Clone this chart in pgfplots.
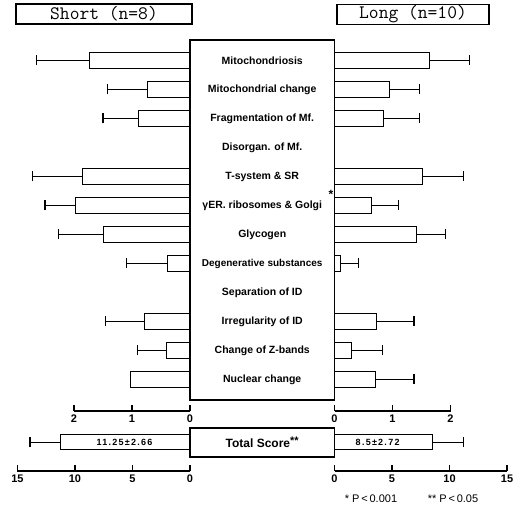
\documentclass[border=0pt]{standalone}
\usepackage{pgfplots}
\pgfplotsset{compat=1.18}
\usepackage{fontspec}
\setmainfont{Liberation Sans}
\begin{document}
\begin{tikzpicture}
\path[use as bounding box] (0pt,0pt) rectangle (516pt,513pt);
\pgfplotsset{
 barax/.style={scale only axis, hide axis, clip=false, xbar, bar width=16pt, bar shift=0pt,
   y dir=reverse, ymin=0.293, ymax=12.707, xmin=0, xmax=3, width=174pt, height=360pt},
 totax/.style={scale only axis, hide axis, clip=false, xbar, bar width=15pt, bar shift=0pt,
   ymin=0, ymax=1, xmin=0, xmax=15, width=172.5pt, height=29pt},
 bars/.style={draw=black, fill=white, line width=1pt,
   error bars/.cd, x dir=plus, x explicit, error mark=|, error bar style={line width=1pt, black},
   error mark options={line width=1.1pt, mark size=5pt, black}},
 scaleax/.style={scale only axis, axis x line=bottom, axis y line=none,
   axis line style={-, line width=1.1pt}, ymin=0, ymax=1, height=5pt,
   tick align=inside, major tick length=6pt, tick style={line width=1.1pt, black},
   xticklabel style={font=\bfseries\fontsize{11}{11}\selectfont, /pgf/number format/assume math mode=true}},
}
\def\lab{\bfseries\fontsize{10.5}{10.5}\selectfont}
% ---------- Short, upper panel ----------
\begin{axis}[barax, x dir=reverse, at={(190pt,473pt)}, anchor=north east]
\addplot[bars] coordinates {
 (1.74,1) +- (0.90,0)
 (0.74,2) +- (0.69,0)
 (0.88,3) +- (0.62,0)
 (1.86,5) +- (0.85,0)
 (1.98,6) +- (0.52,0)
 (1.50,7) +- (0.76,0)
 (0.38,8) +- (0.72,0)
 (0.78,10) +- (0.67,0)
 (0.40,11) +- (0.50,0)
};
\addplot[draw=black, fill=white, line width=1pt] coordinates {(1.02,12)};
\draw[line width=1.4pt] (axis cs:0,0.293) rectangle (axis cs:-2.491,12.707);
\node[font=\lab] at (axis cs:-1.2455,1) {Mitochondriosis};
\node[font=\lab] at (axis cs:-1.2455,2) {Mitochondrial change};
\node[font=\lab] at (axis cs:-1.2455,3) {Fragmentation of Mf.};
\node[font=\lab] at (axis cs:-1.2455,4) {Disorgan. of Mf.};
\node[font=\lab] at (axis cs:-1.2455,5) {T-system \& SR};
\node[font=\lab] at (axis cs:-1.2455,6) {γER. ribosomes \& Golgi};
\node[font=\bfseries\fontsize{12}{12}\selectfont] at (axis cs:-2.43,5.6) {*};
\node[font=\lab] at (axis cs:-1.2455,7) {Glycogen};
\node[font=\bfseries\fontsize{10}{10}\selectfont] at (axis cs:-1.2455,8) {Degenerative substances};
\node[font=\lab] at (axis cs:-1.2455,9) {Separation of ID};
\node[font=\lab] at (axis cs:-1.2455,10) {Irregularity of ID};
\node[font=\lab] at (axis cs:-1.2455,11) {Change of Z-bands};
\node[font=\lab] at (axis cs:-1.2455,12) {Nuclear change};
\end{axis}
% ---------- Long, upper panel ----------
\begin{axis}[barax, at={(334.5pt,473pt)}, anchor=north west]
\addplot[bars] coordinates {
 (1.63,1) +- (0.69,0)
 (0.94,2) +- (0.52,0)
 (0.84,3) +- (0.62,0)
 (1.51,5) +- (0.71,0)
 (0.63,6) +- (0.48,0)
 (1.42,7) +- (0.50,0)
 (0.11,8) +- (0.30,0)
 (0.72,10) +- (0.65,0)
 (0.30,11) +- (0.52,0)
 (0.70,12) +- (0.67,0)
};
\end{axis}
% ---------- scales 0-2 ----------
\begin{axis}[scaleax, x dir=reverse, xmin=0, xmax=2, width=116pt, xtick={0,1,2},
  at={(190pt,102pt)}, anchor=south east]
\addplot[draw=none] coordinates {(0,0)};
\end{axis}
\begin{axis}[scaleax, xmin=0, xmax=2, width=116pt, xtick={0,1,2},
  at={(334.5pt,102pt)}, anchor=south west]
\addplot[draw=none] coordinates {(0,0)};
\end{axis}
% ---------- Total score ----------
\begin{axis}[totax, x dir=reverse, at={(190pt,85pt)}, anchor=north east]
\addplot[bars] coordinates {(11.25,0.5) +- (2.66,0)};
\node[font=\bfseries\fontsize{9}{9}\selectfont\addfontfeatures{LetterSpace=14}] at (axis cs:5.7,0.5) {11.25±2.66};
\draw[line width=1.4pt] (axis cs:0,0) rectangle (axis cs:-12.565,1);
\node[font=\bfseries\fontsize{12}{12}\selectfont] at (axis cs:-6.28,0.52) {Total Score\raisebox{3pt}{\fontsize{11}{11}\selectfont **}};
\end{axis}
\begin{axis}[totax, at={(334.5pt,85pt)}, anchor=north west]
\addplot[bars] coordinates {(8.5,0.5) +- (2.72,0)};
\node[font=\bfseries\fontsize{9}{9}\selectfont\addfontfeatures{LetterSpace=14}] at (axis cs:3.75,0.5) {8.5±2.72};
\end{axis}
% ---------- scales 0-15 ----------
\begin{axis}[scaleax, x dir=reverse, xmin=0, xmax=15, width=172.5pt, xtick={0,5,10,15},
  at={(190pt,42pt)}, anchor=south east]
\addplot[draw=none] coordinates {(0,0)};
\end{axis}
\begin{axis}[scaleax, xmin=0, xmax=15, width=172.5pt, xtick={0,5,10,15},
  at={(334.5pt,42pt)}, anchor=south west]
\addplot[draw=none] coordinates {(0,0)};
\end{axis}
% ---------- titles and footnote ----------
\node[draw, line width=1.1pt, minimum width=176pt, minimum height=20pt, inner sep=0pt,
  font=\ttfamily\fontsize{19}{19}\selectfont] at (104pt,499pt) {Short (n=8)};
\node[draw, line width=1.1pt, minimum width=152pt, minimum height=20pt, inner sep=0pt,
  font=\ttfamily\fontsize{19}{19}\selectfont] at (413pt,498.5pt) {Long (n=10)};
\node[font=\fontsize{11}{11}\selectfont] at (371pt,14pt) {* P\,<\,0.001};
\node[font=\fontsize{11}{11}\selectfont] at (453pt,14pt) {** P\,<\,0.05};
\end{tikzpicture}
\end{document}
